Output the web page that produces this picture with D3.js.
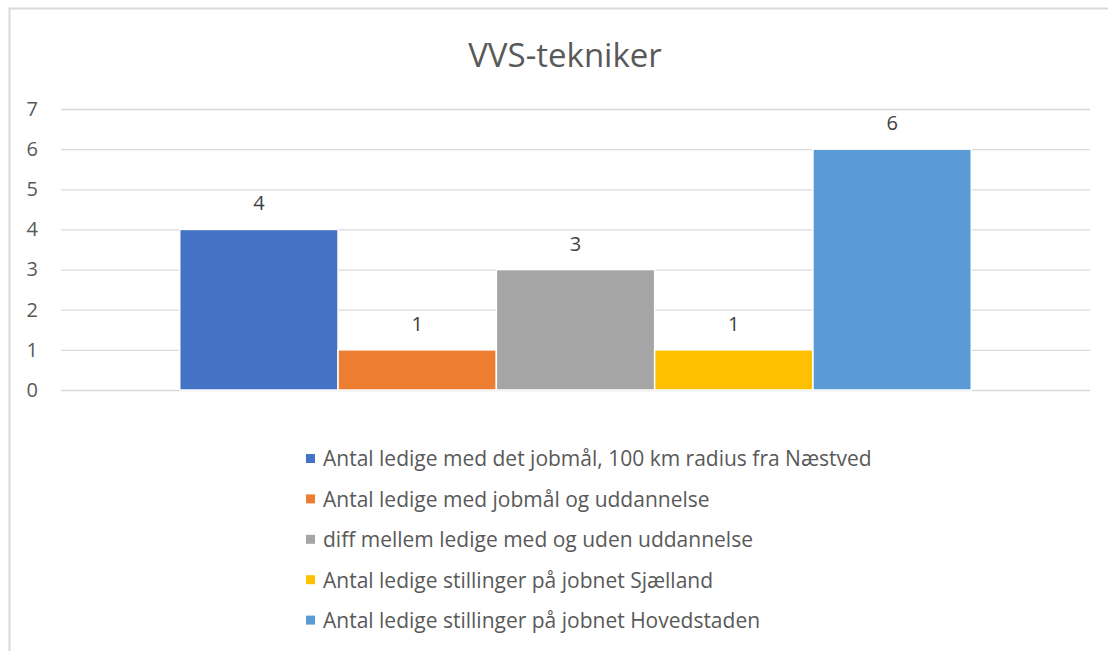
<!DOCTYPE html>
<meta charset="utf-8">
<style>
  body { margin: 0; background: #fff; }
  svg { display: block; font-family: "Open Sans", sans-serif; }
</style>
<svg width="1108" height="651"></svg>
<script src="https://cdn.jsdelivr.net/npm/d3@7/dist/d3.min.js"></script>
<script>

// chart data
var title = "VVS-tekniker";
var seriesNames = [
  "Antal ledige med det jobmål, 100 km radius fra Næstved",
  "Antal ledige med jobmål og uddannelse",
  "diff mellem ledige med og uden uddannelse",
  "Antal ledige stillinger på jobnet Sjælland",
  "Antal ledige stillinger på jobnet Hovedstaden"
];
var seriesValues = [4, 1, 3, 1, 6];
var seriesColors = ["#4472C4", "#ED7D31", "#A5A5A5", "#FFC000", "#5B9BD5"];
var yTicks = [0, 1, 2, 3, 4, 5, 6, 7];

var svg = d3.select("svg"),
    plot = {left: 61, right: 1090, top: 109, bottom: 390};

// chart frame (cropped on the right and bottom)
svg.append("path")
    .attr("d", "M9.5,651V8.5H1108")
    .attr("fill", "none")
    .attr("stroke", "#d9d9d9")
    .attr("stroke-width", 2);

svg.append("text")
    .attr("x", 565)
    .attr("y", 67)
    .attr("text-anchor", "middle")
    .attr("fill", "#595959")
    .attr("font-size", 33)
    .text(title);

var y = d3.scaleLinear()
    .domain([0, 7])
    .range([plot.bottom, plot.top]);

// one category, five bars side by side, gap width 150%
var x = d3.scaleBand()
    .domain(seriesNames)
    .range([plot.left, plot.right])
    .paddingInner(0)
    .paddingOuter(0.75);

var yAxis = svg.append("g")
    .attr("transform", "translate(" + plot.left + ",0)")
    .call(d3.axisLeft(y).tickValues(yTicks).tickFormat(d3.format("d"))
      .tickSize(-(plot.right - plot.left)).tickPadding(23));

yAxis.select(".domain").remove();
yAxis.selectAll(".tick line").attr("stroke", "#d9d9d9").attr("stroke-width", 1.3);
yAxis.selectAll(".tick text")
    .attr("fill", "#595959")
    .attr("font-size", 20)
    .attr("font-family", "'Open Sans', sans-serif");

svg.append("g")
  .selectAll("rect")
  .data(seriesValues)
  .enter().append("rect")
    .attr("x", function(d, i) { return x(seriesNames[i]); })
    .attr("y", function(d) { return y(d); })
    .attr("width", x.bandwidth())
    .attr("height", function(d) { return y(0) - y(d); })
    .attr("fill", function(d, i) { return seriesColors[i]; })
    .attr("stroke", "#fff")
    .attr("stroke-width", 1.5);

svg.append("g")
  .selectAll("text")
  .data(seriesValues)
  .enter().append("text")
    .attr("x", function(d, i) { return x(seriesNames[i]) + x.bandwidth() / 2; })
    .attr("y", function(d) { return y(d) - 19; })
    .attr("text-anchor", "middle")
    .attr("fill", "#404040")
    .attr("font-size", 20)
    .text(function(d) { return d; });

// legend
var legend = svg.append("g")
  .selectAll("g")
  .data(seriesNames)
  .enter().append("g")
    .attr("transform", function(d, i) { return "translate(306," + (459 + i * 40.4) + ")"; });

legend.append("rect")
    .attr("y", -5)
    .attr("width", 9)
    .attr("height", 9)
    .attr("fill", function(d, i) { return seriesColors[i]; });

legend.append("text")
    .attr("x", 17)
    .attr("dy", "0.35em")
    .attr("fill", "#595959")
    .attr("font-size", 21)
    .text(function(d) { return d; });
</script>
